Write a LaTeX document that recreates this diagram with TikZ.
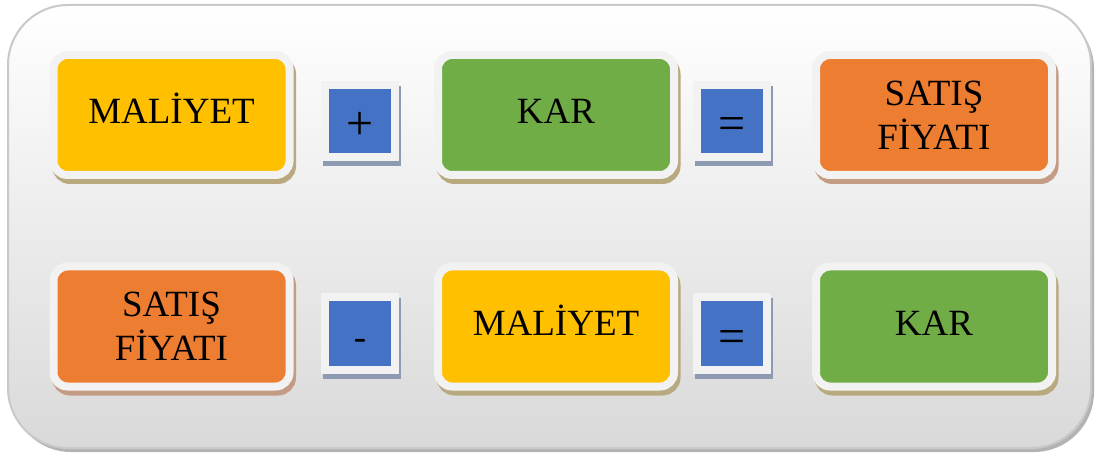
\documentclass[tikz,border=0pt]{standalone}
\usepackage{fontspec}
\setmainfont{Liberation Serif}
\usepackage{tikz}
\usepackage{xcolor}
\usetikzlibrary{shadows}
\definecolor{costyellow}{HTML}{FFC000}
\definecolor{profitgreen}{HTML}{70AD47}
\definecolor{priceorange}{HTML}{ED7D31}
\definecolor{opblue}{HTML}{4472C4}
\definecolor{framewhite}{HTML}{F2F2F2}
\definecolor{tanshadow}{HTML}{B8A97F}
\definecolor{rustshadow}{HTML}{C49C84}
\definecolor{blueshadow}{HTML}{8E9AB2}
\definecolor{panelline}{HTML}{C9C9C9}
\definecolor{panelshadow}{HTML}{B3B3B3}
\definecolor{panelbottom}{HTML}{D9D9D9}
\tikzset{
    term-box/.style = {draw=framewhite, line width=8pt, rounded corners=14pt, minimum width=236pt, minimum height=120pt, align=center, font=\fontsize{37}{44}\selectfont,
        general shadow={draw=#1, fill=#1, line width=8pt, shadow xshift=2.5pt, shadow yshift=-5pt}},
    term-box/.default = tanshadow,
    one-line/.style = {text height=27pt, text depth=9pt},
    op-box/.style = {fill=opblue, draw=framewhite, line width=8pt, minimum width=70pt, minimum height=72pt, font=\fontsize{48}{56}\selectfont, text height=38pt, text depth=0pt,
        general shadow={draw=blueshadow, fill=blueshadow, line width=8pt, shadow xshift=2pt, shadow yshift=-5pt}},
    dash-sign/.style = {font=\fontsize{37}{44}\selectfont, text height=31pt},
}
\begin{document}
\begin{tikzpicture}[x=1pt, y=-1pt]
\useasboundingbox (0,0) rectangle (1095,454);
% background panel
\fill[panelshadow, rounded corners=60pt] (11,9) rectangle (1094,452);
\draw[panelline, line width=2pt, rounded corners=60pt, top color=white, bottom color=panelbottom] (8,5) rectangle (1091,448);

% cost + profit = price
\node [term-box, fill=costyellow, one-line] (cost-a) at (171.5,115) {MALİYET};
\node [op-box] (plus) at (360,121) {+};
\node [term-box, fill=profitgreen, one-line] (profit-a) at (556,115) {KAR};
\node [op-box] (eq-a) at (732,121) {=};
\node [term-box=rustshadow, fill=priceorange] (price-a) at (934,115) {SATIŞ\\FİYATI};

% price - cost = profit
\node [term-box=rustshadow, fill=priceorange] (price-b) at (171.5,326.5) {SATIŞ\\FİYATI};
\node [op-box, dash-sign] (minus) at (360,333.5) {-};
\node [term-box, fill=costyellow, one-line] (cost-b) at (556,326.5) {MALİYET};
\node [op-box] (eq-b) at (732,333.5) {=};
\node [term-box, fill=profitgreen, one-line] (profit-b) at (934,326.5) {KAR};
\end{tikzpicture}
\end{document}
